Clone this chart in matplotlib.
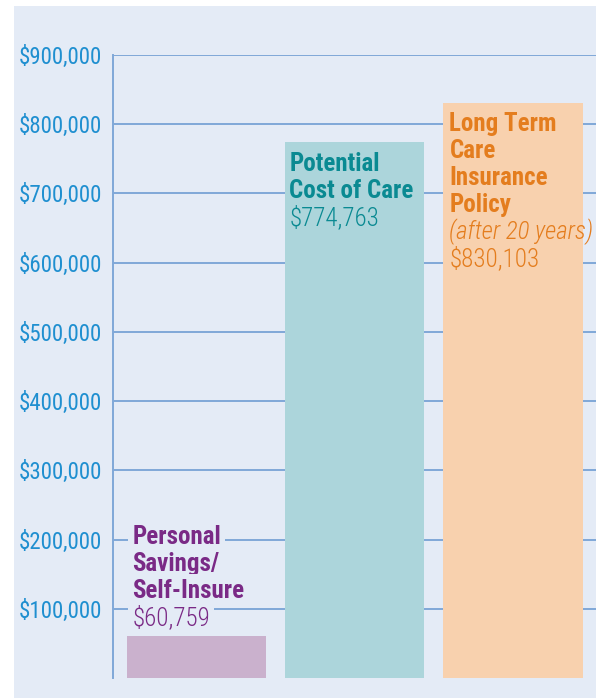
import matplotlib
matplotlib.use("Agg")
import matplotlib.pyplot as plt
from matplotlib.patches import Rectangle
from matplotlib.ticker import FuncFormatter

# ── data ──────────────────────────────────────────────────────────────────────
categories = ["Personal Savings/Self-Insure", "Potential Cost of Care",
              "Long Term Care Insurance Policy"]
values     = [60759, 774763, 830103]
yticks     = [100000, 200000, 300000, 400000, 500000,
              600000, 700000, 800000, 900000]

# label lines per bar: (text, weight, style)
labels = [
    [("Personal", "bold", "normal"), ("Savings/", "bold", "normal"),
     ("Self-Insure", "bold", "normal"), ("$60,759", "light", "normal")],
    [("Potential", "bold", "normal"), ("Cost of Care", "bold", "normal"),
     ("$774,763", "light", "normal")],
    [("Long Term", "bold", "normal"), ("Care", "bold", "normal"),
     ("Insurance", "bold", "normal"), ("Policy", "bold", "normal"),
     ("(after 20 years)", "light", "italic"), ("$830,103", "light", "normal")],
]

# ── style ─────────────────────────────────────────────────────────────────────
PANEL    = "#e4ebf6"
GRID     = "#80a8d8"
TICKCOL  = "#1f8fd0"
BARCOLS  = ["#cab1cd", "#acd5db", "#f8d1ae"]
TEXTCOLS = ["#7a2a86", "#0a8a92", "#e47d1e"]
FONT     = ["Roboto Condensed", "DejaVu Sans"]

plt.rcParams["font.family"] = FONT

fig = plt.figure(figsize=(6.0, 6.98), dpi=100, facecolor="white")
fig.add_artist(Rectangle((14 / 600, 0), (596 - 14) / 600, (698 - 6) / 698,
                         transform=fig.transFigure, facecolor=PANEL,
                         edgecolor="none", zorder=-10))

ax = fig.add_axes([113 / 600, 20 / 698, (596 - 113) / 600, (678 - 55) / 698])
ax.set_facecolor("none")

x = list(range(len(values)))
ax.bar(x, values, width=0.88, color=BARCOLS, zorder=2)

ax.set_xlim(-0.53, 2.525)
ax.set_ylim(0, 900000)
ax.set_yticks(yticks)
ax.yaxis.set_major_formatter(FuncFormatter(lambda v, p: f"${v:,.0f}"))
ax.tick_params(axis="y", length=0, pad=8, labelsize=16.5, labelcolor=TICKCOL)
ax.set_xticks([])
ax.grid(axis="y", color=GRID, linewidth=1.4, zorder=1)
ax.set_axisbelow(True)
for s in ["top", "right", "bottom"]:
    ax.spines[s].set_visible(False)
ax.spines["left"].set_color(GRID)
ax.spines["left"].set_linewidth(1.4)

# ── bar labels ────────────────────────────────────────────────────────────────
LH = 19.5  # line height, points
offsets = [(3.6, 8), (3, -21), (4.3, -20)]  # first/last baseline vs bar top
for i, (v, lines) in enumerate(zip(values, labels)):
    left = x[i] - 0.44
    dx, dy = offsets[i]
    n = len(lines)
    for j, (t, w, st) in enumerate(lines):
        if i == 0:
            # small bar: text stacked above it, masking the gridlines
            yo = dy + (n - 1 - j) * LH
            box = dict(facecolor=PANEL, edgecolor="none", pad=3)
        else:
            yo = dy - j * LH
            box = None
        ax.annotate(t, xy=(left, v), xytext=(dx, yo),
                    textcoords="offset points", va="baseline", ha="left",
                    fontsize=18, fontweight=w, fontstyle=st,
                    color=TEXTCOLS[i], zorder=4, bbox=box)

fig.savefig("out.png", dpi=100, facecolor="white")
